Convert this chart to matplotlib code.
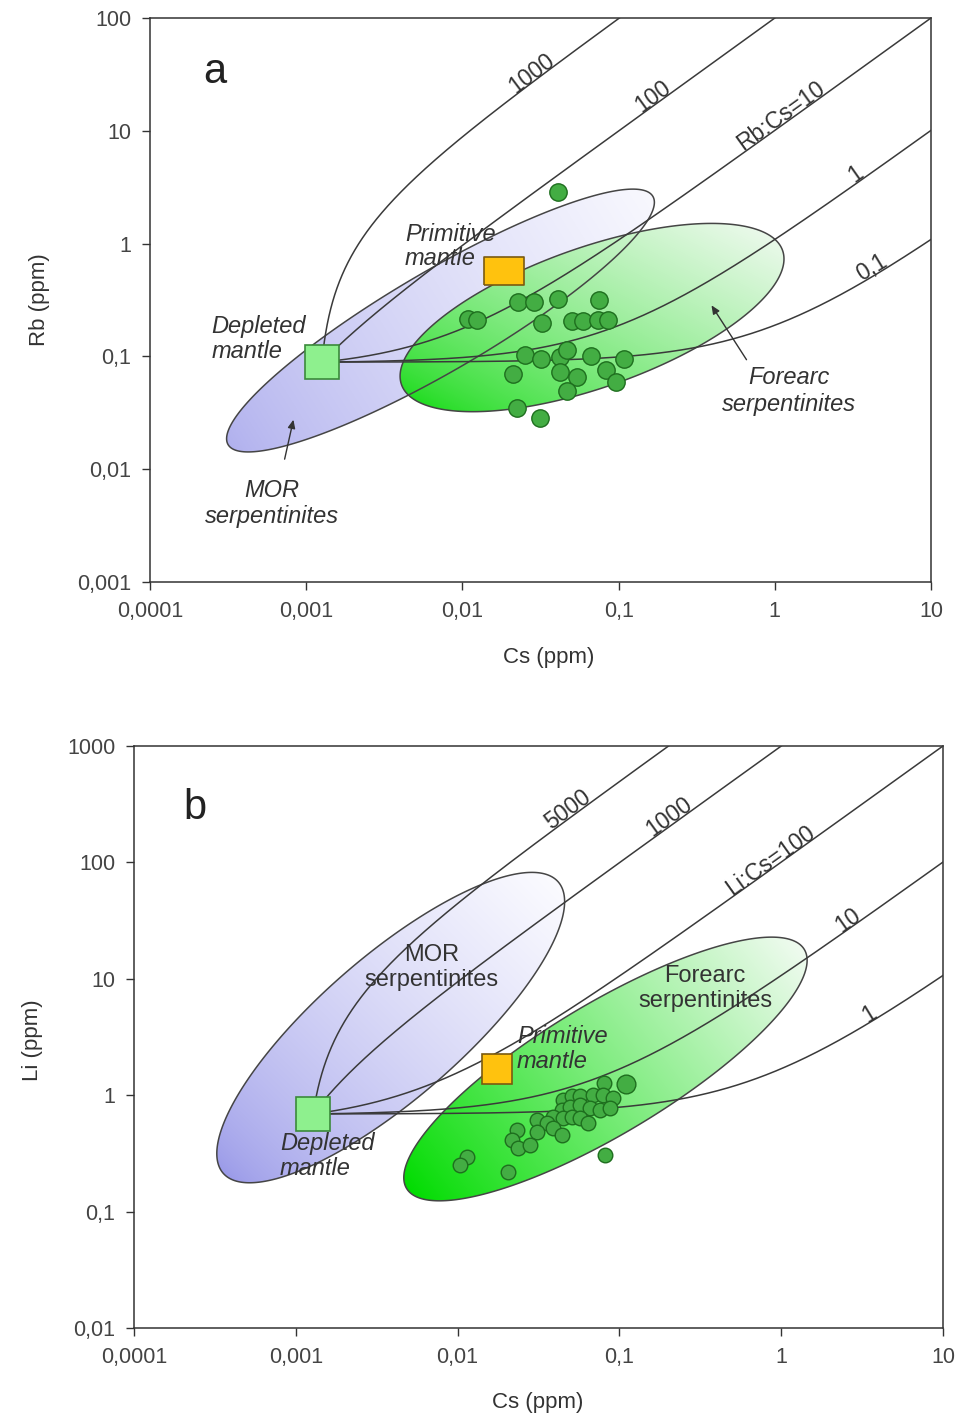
import numpy as np
import matplotlib
matplotlib.use("Agg")
import matplotlib.pyplot as plt
from matplotlib.patches import Polygon, FancyArrowPatch
from matplotlib.ticker import FixedLocator, FixedFormatter, NullLocator
from matplotlib.transforms import offset_copy

plt.rcParams['font.family'] = ['Liberation Sans', 'DejaVu Sans']

# ---------------- data ----------------
# panel a: Cs vs Rb of forearc serpentinites
cs_a = [0.0407, 0.0228, 0.0287, 0.0407, 0.075, 0.0109, 0.0124, 0.0325, 0.0506,
        0.0594, 0.0741, 0.0859, 0.0252, 0.0317, 0.0421, 0.0466, 0.0665, 0.109,
        0.0212, 0.0421, 0.054, 0.083, 0.0957, 0.0466, 0.0222, 0.0314]
rb_a = [2.88, 0.305, 0.305, 0.323, 0.316, 0.213, 0.21, 0.196, 0.207,
        0.207, 0.21, 0.21, 0.103, 0.094, 0.098, 0.114, 0.101, 0.095,
        0.0698, 0.0728, 0.0653, 0.0757, 0.0589, 0.0497, 0.0349, 0.0284]
dm_a = (0.00126, 0.089)      # depleted mantle (Cs, Rb)
pm_a = (0.0185, 0.571)       # primitive mantle (Cs, Rb)
ratios_a = [1000, 100, 10, 1, 0.1]
ratio_labels_a = ['1000', '100', 'Rb:Cs=10', '1', '0,1']

# panel b: Cs vs Li
cs_b = [0.0804, 0.110, 0.0447, 0.0507, 0.0571, 0.069, 0.0796, 0.0916, 0.044,
        0.0496, 0.0571, 0.0658, 0.0759, 0.0875, 0.0391, 0.0447, 0.0507, 0.0571,
        0.0643, 0.0308, 0.0356, 0.0391, 0.044, 0.0308, 0.0232, 0.0216, 0.0237,
        0.028, 0.0115, 0.01035, 0.0206, 0.0815]
li_b = [1.265, 1.25, 0.91, 0.984, 0.984, 1.0, 1.0, 0.94, 0.746,
        0.787, 0.824, 0.771, 0.746, 0.771, 0.653, 0.634, 0.653, 0.634,
        0.574, 0.612, 0.574, 0.52, 0.455, 0.486, 0.502, 0.412, 0.35,
        0.373, 0.296, 0.251, 0.22, 0.306]
big_b = [False, True] + [False] * 30
dm_b = (0.00128, 0.69)
pm_b = (0.0176, 1.68)
ratios_b = [5000, 1000, 100, 10, 1]
ratio_labels_b = ['5000', '1000', 'Li:Cs=100', '10', '1']

x_ticks = [0.0001, 0.001, 0.01, 0.1, 1, 10]
x_ticklabels = ['0,0001', '0,001', '0,01', '0,1', '1', '10']
ya_ticks = [0.001, 0.01, 0.1, 1, 10, 100]
ya_ticklabels = ['0,001', '0,01', '0,1', '1', '10', '100']
yb_ticks = [0.01, 0.1, 1, 10, 100, 1000]
yb_ticklabels = ['0,01', '0,1', '1', '10', '100', '1000']

TXT = '#333333'
W, H = 957, 1425
fig = plt.figure(figsize=(W / 100, H / 100), dpi=100)


def px_axes(l, t, r, b):
    return [l / W, 1 - b / H, (r - l) / W, (b - t) / H]


axa = fig.add_axes(px_axes(150, 18, 931, 582))
axb = fig.add_axes(px_axes(134, 746, 943, 1328))


def setup(ax, ylim, yt, ytl, xlabel, ylabel, xlab_pos, ylab_pos):
    ax.set_xscale('log')
    ax.set_yscale('log')
    ax.set_xlim(1e-4, 10)
    ax.set_ylim(*ylim)
    ax.set_autoscale_on(False)
    ax.xaxis.set_major_locator(FixedLocator(x_ticks))
    ax.xaxis.set_major_formatter(FixedFormatter(x_ticklabels))
    ax.yaxis.set_major_locator(FixedLocator(yt))
    ax.yaxis.set_major_formatter(FixedFormatter(ytl))
    ax.xaxis.set_minor_locator(NullLocator())
    ax.yaxis.set_minor_locator(NullLocator())
    ax.tick_params(axis='both', which='major', direction='out', length=5.5,
                   width=1.0, color='#333333', labelsize=15.5,
                   labelcolor='#444444', pad=8)
    for s in ax.spines.values():
        s.set_color('#333333')
        s.set_linewidth(1.1)
    ax.set_xlabel(xlabel, fontsize=16, color=TXT)
    ax.set_ylabel(ylabel, fontsize=16, color=TXT)
    ax.xaxis.set_label_coords(*xlab_pos)
    ax.yaxis.set_label_coords(*ylab_pos)


setup(axa, (1e-3, 100), ya_ticks, ya_ticklabels, 'Cs (ppm)', 'Rb (ppm)',
      (0.51, -0.116), (-0.128, 0.5))
setup(axb, (1e-2, 1000), yb_ticks, yb_ticklabels, 'Cs (ppm)', 'Li (ppm)',
      (0.499, -0.11), (-0.112, 0.495))


def draw_ellipse(ax, center, a, b, ang, c0, c1, gang, gamma=1.0, z=1):
    """Ellipse defined in screen pixels around a data-space centre, with a
    linear colour gradient clipped to it."""
    cx, cy = ax.transData.transform(center)
    t = np.linspace(0, 2 * np.pi, 500)
    th = np.deg2rad(ang)
    x = cx + a * np.cos(t) * np.cos(th) - b * np.sin(t) * np.sin(th)
    y = cy + a * np.cos(t) * np.sin(th) + b * np.sin(t) * np.cos(th)
    disp = np.column_stack([x, y])
    data = ax.transData.inverted().transform(disp)

    bb = ax.get_window_extent()
    nx, ny = int(round(bb.width)), int(round(bb.height))
    X = bb.x0 + np.arange(nx) + 0.5
    Y = bb.y0 + np.arange(ny) + 0.5
    XX, YY = np.meshgrid(X, Y)
    g = np.deg2rad(gang)
    gd = np.array([np.cos(g), np.sin(g)])
    proj = XX * gd[0] + YY * gd[1]
    pe = disp @ gd
    tt = np.clip((proj - pe.min()) / (pe.max() - pe.min()), 0, 1) ** gamma
    c0 = np.array(matplotlib.colors.to_rgb(c0))
    c1 = np.array(matplotlib.colors.to_rgb(c1))
    img = c0[None, None, :] * (1 - tt[..., None]) + c1[None, None, :] * tt[..., None]
    im = ax.imshow(img, extent=[0, 1, 0, 1], transform=ax.transAxes,
                   origin='lower', aspect='auto', interpolation='bilinear',
                   zorder=z)
    clip = Polygon(data, closed=True, transform=ax.transData)
    im.set_clip_path(clip)
    outline = Polygon(data, closed=True, facecolor='none', edgecolor='#454545',
                      lw=1.1, zorder=2.5)
    ax.add_patch(outline)


def mixing_xy(dm, r, x):
    return dm[1] + r * (np.asarray(x) - dm[0])


def mixing(ax, dm, r):
    xmax = 10.0
    dx = np.logspace(-9, np.log10(xmax - dm[0]), 3000)
    x = dm[0] + dx
    ax.plot(x, mixing_xy(dm, r, x), color='#3a3a3a', lw=1.1, zorder=3)


def curve_label(ax, dm, r, xpix, s, size=16.5):
    """Place a label sitting on the mixing curve at screen x = xpix."""
    inv = ax.transData.inverted()
    xd = inv.transform((xpix, 0))[0]
    yd = mixing_xy(dm, r, xd)
    p0 = ax.transData.transform((xd, yd))
    p1 = ax.transData.transform((xd * 1.05, mixing_xy(dm, r, xd * 1.05)))
    ang = np.degrees(np.arctan2(p1[1] - p0[1], p1[0] - p0[0]))
    off = 1.0
    tr = offset_copy(ax.transData, fig=fig, x=-np.sin(np.radians(ang)) * off,
                     y=np.cos(np.radians(ang)) * off, units='points')
    ax.text(xd, yd, s, transform=tr, rotation=ang, rotation_mode='anchor',
            ha='center', va='baseline', fontsize=size, color=TXT, zorder=7)


# ---------------- panel a ----------------
draw_ellipse(axa, (0.00724, 0.208), 246, 50, 30.3, '#b0b0ee', '#f8f8fe', 32,
             gamma=0.75, z=1.0)
draw_ellipse(axa, (0.0676, 0.221), 202, 70, 19.4, '#1fdc1f', '#eaf9ea', 62,
             gamma=0.75, z=1.2)
for r in ratios_a:
    mixing(axa, dm_a, r)

axa.plot(cs_a, rb_a, 'o', ms=12.5, mfc='#43ad43', mec='#1e6e1e', mew=1.0,
         zorder=5, ls='none')
axa.plot([dm_a[0]], [dm_a[1]], 's', ms=24, mfc='#8ef08e', mec='#3b8a3b',
         mew=1.2, zorder=6)
rect = [(-1, -0.68), (1, -0.68), (1, 0.68), (-1, 0.68), (-1, -0.68)]
axa.plot([pm_a[0]], [pm_a[1]], marker=rect, ms=29, mfc='#ffc20e',
         mec='#7a5a10', mew=1.2, zorder=6, ls='none')

for r, s, xp in zip(ratios_a, ratio_labels_a, [536, 658, 786, 860, 876]):
    curve_label(axa, dm_a, r, xp, s)

axa.text(0.083, 0.904, 'a', transform=axa.transAxes, fontsize=30,
         color='#222222', ha='center', va='center')
axa.text(0.079, 0.473, 'Depleted\nmantle', transform=axa.transAxes,
         fontsize=17, style='italic', color=TXT, ha='left', va='top',
         linespacing=1.12, zorder=7)
axa.text(0.3265, 0.637, 'Primitive\nmantle', transform=axa.transAxes,
         fontsize=17, style='italic', color=TXT, ha='left', va='top',
         linespacing=1.05, zorder=7)
axa.text(0.818, 0.383, 'Forearc\nserpentinites', transform=axa.transAxes,
         fontsize=17, style='italic', color=TXT, ha='center', va='top',
         linespacing=1.22, zorder=7)
axa.text(0.156, 0.183, 'MOR\nserpentinites', transform=axa.transAxes,
         fontsize=17, style='italic', color=TXT, ha='center', va='top',
         linespacing=1.2, zorder=7)
for (p0, p1) in [((0.1716, 0.213), (0.1844, 0.2926)),
                 ((0.7657, 0.390), (0.717, 0.4947))]:
    axa.add_patch(FancyArrowPatch(p0, p1, transform=axa.transAxes,
                                  arrowstyle='-|>,head_length=5,head_width=2.2',
                                  color='#333333', lw=1.0, zorder=7))

# ---------------- panel b ----------------
draw_ellipse(axb, (0.00386, 3.81), 222, 71, 41, '#9898e8', '#fbfbff', 45,
             gamma=0.65, z=1.0)
draw_ellipse(axb, (0.082, 1.68), 232, 65, 31, '#00dc00', '#f0fbf0', 38,
             gamma=0.9, z=1.2)
for r in ratios_b:
    mixing(axb, dm_b, r)

sizes_b = np.where(big_b, 13.5, 10.5)
for xv, yv, s in zip(cs_b, li_b, sizes_b):
    axb.plot([xv], [yv], 'o', ms=s, mfc='#43ad43', mec='#1e6e1e', mew=1.0,
             zorder=5)
axb.plot([dm_b[0]], [dm_b[1]], 's', ms=24, mfc='#8ef08e', mec='#3b8a3b',
         mew=1.2, zorder=6)
axb.plot([pm_b[0]], [pm_b[1]], 's', ms=21, mfc='#ffc20e', mec='#7a5a10',
         mew=1.2, zorder=6)

for r, s, xp in zip(ratios_b, ratio_labels_b, [572, 674, 775, 852, 873]):
    curve_label(axb, dm_b, r, xp, s)

axb.text(0.0754, 0.8935, 'b', transform=axb.transAxes, fontsize=30,
         color='#222222', ha='center', va='center')
axb.text(0.368, 0.66, 'MOR\nserpentinites', transform=axb.transAxes,
         fontsize=17, color=TXT, ha='center', va='top', linespacing=1.2,
         zorder=7)
axb.text(0.706, 0.624, 'Forearc\nserpentinites', transform=axb.transAxes,
         fontsize=17, color=TXT, ha='center', va='top', linespacing=1.2,
         zorder=7)
axb.text(0.4734, 0.521, 'Primitive\nmantle', transform=axb.transAxes,
         fontsize=17, style='italic', color=TXT, ha='left', va='top',
         linespacing=1.12, zorder=7)
axb.text(0.1805, 0.337, 'Depleted\nmantle', transform=axb.transAxes,
         fontsize=17, style='italic', color=TXT, ha='left', va='top',
         linespacing=1.12, zorder=7)

fig.savefig('out.png', dpi=100, facecolor='white')
